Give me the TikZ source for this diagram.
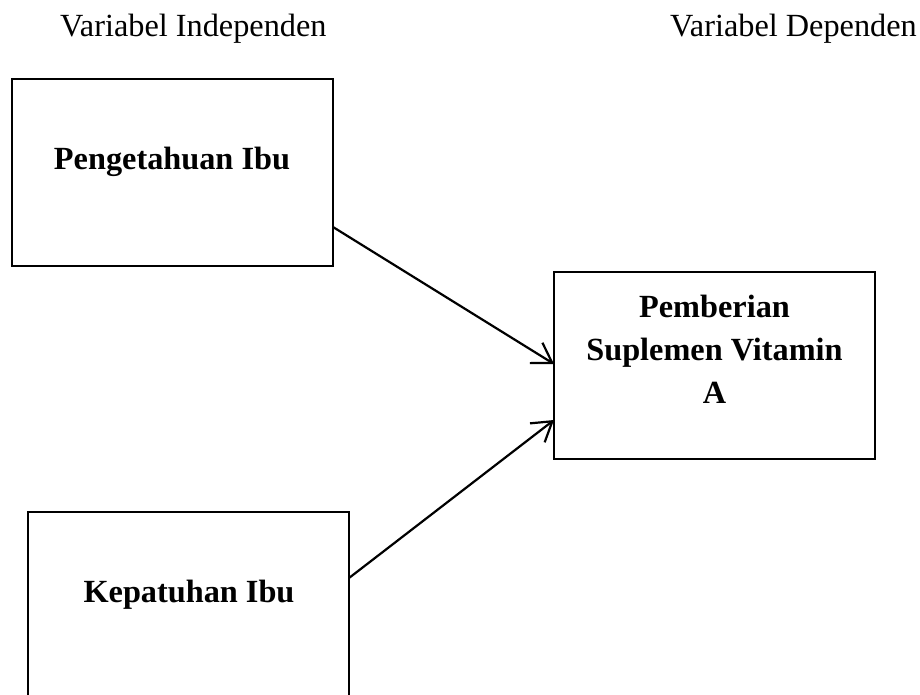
\documentclass[tikz,border=0pt]{standalone}
\usepackage{fontspec}
\setmainfont{Liberation Serif}
\usetikzlibrary{arrows.meta,positioning}
\begin{document}
\begin{tikzpicture}[x=1pt,y=-1pt,
  varbox/.style={draw=black,line width=2.6pt,rectangle,inner sep=0pt,outer sep=0pt,fill=none},
  boxtext/.style={font=\fontsize{32.3}{43}\selectfont\bfseries,inner sep=0pt,align=center},
  headtext/.style={font=\fontsize{32.3}{43}\selectfont,inner sep=0pt},
  conn/.style={line width=2.2pt,-{Straight Barb[length=19pt,width=24pt,line width=2.2pt]}}]
\clip (0,0) rectangle (920,694);
\fill[white] (0,0) rectangle (920,694);
% headers
\node[headtext,anchor=base west] (hind) at (60,36) {Variabel Independen};
\node[headtext,anchor=base west] (hdep) at (670,36) {Variabel Dependen};
% boxes
\node[varbox,minimum width=321pt,minimum height=187pt] (b1) at (172.5,172.5) {};
\node[varbox,minimum width=321pt,minimum height=240pt] (b2) at (188.5,632) {};
\node[varbox,minimum width=321pt,minimum height=187pt] (b3) at (714.5,365.5) {};
% texts
\node[boxtext,anchor=base] (t1) at (172,169) {Pengetahuan Ibu};
\node[boxtext,anchor=base] (t2) at (189,602) {Kepatuhan Ibu};
\node[boxtext,anchor=center] (t3) at (714.5,349) {Pemberian\\Suplemen Vitamin\\A};
% connectors
\draw[conn] ([yshift=-54.5pt]b1.east) -- ([yshift=1.5pt]b3.west);
\draw[conn] ([yshift=-66pt]b2.north east) -- ([yshift=-54.5pt]b3.west);
\end{tikzpicture}
\end{document}
